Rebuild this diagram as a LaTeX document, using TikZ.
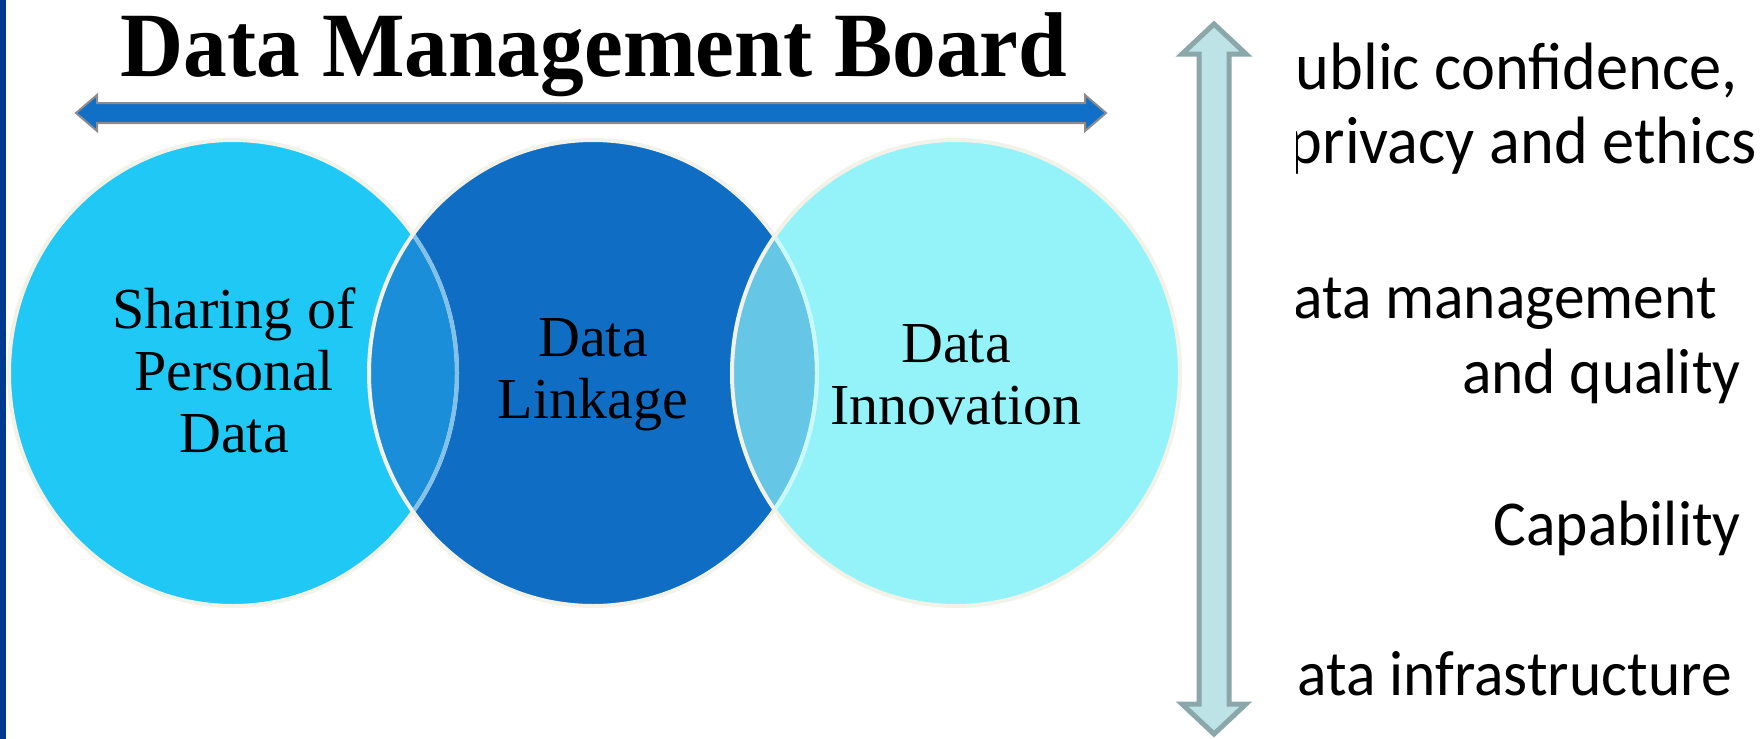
\documentclass[tikz,border=0pt]{standalone}
\usepackage{fontspec}
\setmainfont{Liberation Serif}
\newfontfamily\titlefont{Liberation Serif}[FakeStretch=0.95]
\newfontfamily\calib{Carlito}[FakeStretch=0.96]
\usetikzlibrary{positioning}

\definecolor{barblue}{RGB}{0,58,142}
\definecolor{sharecol}{RGB}{31,200,245}
\definecolor{linkcol}{RGB}{15,110,196}
\definecolor{innocol}{RGB}{148,243,248}
\definecolor{lensA}{RGB}{26,142,216}
\definecolor{lensB}{RGB}{102,198,230}
\definecolor{rimcol}{RGB}{242,242,232}
\definecolor{boardblue}{RGB}{16,112,200}
\definecolor{boardgray}{RGB}{140,140,140}
\definecolor{scalefill}{RGB}{190,227,230}
\definecolor{scalerim}{RGB}{138,167,169}

\tikzset{
    rim/.style={draw=rimcol, line width=2pt},
    vennlabel/.style={align=center, inner sep=0pt, font=\fontsize{29}{31}\selectfont},
    sidelabel/.style={anchor=base east, inner sep=0pt, font=\calib\fontsize{32}{36}\selectfont}
}

\begin{document}
\begin{tikzpicture}[x=0.5pt,y=-0.5pt]
    \useasboundingbox (0,0) rectangle (1762,739);
    \fill[barblue] (0,0) rectangle (6,739);

    % Title and the board arrow
    \node[anchor=base, inner sep=0pt] (title) at (594,76) {\titlefont\bfseries\fontsize{46}{50}\selectfont Data Management Board};
    \draw[fill=boardblue, draw=boardgray, line width=1pt]
        (76,113) -- (97,95) -- (97,103) -- (1085,103) -- (1085,95) -- (1106,113)
        -- (1085,131) -- (1085,123) -- (97,123) -- (97,131) -- cycle;

    % The three circles
    \coordinate (c1) at (233,373);
    \coordinate (c2) at (593,373);
    \coordinate (c3) at (956,373);
    \fill[sharecol] (c1) ellipse [x radius=112pt, y radius=116.5pt];
    \fill[linkcol] (c2) ellipse [x radius=112pt, y radius=116.5pt];
    \fill[innocol] (c3) ellipse [x radius=112pt, y radius=116.5pt];
    \begin{scope}
        \clip (c1) ellipse [x radius=112pt, y radius=116.5pt];
        \fill[lensA] (c2) ellipse [x radius=112pt, y radius=116.5pt];
    \end{scope}
    \begin{scope}
        \clip (c2) ellipse [x radius=112pt, y radius=116.5pt];
        \fill[lensB] (c3) ellipse [x radius=112pt, y radius=116.5pt];
    \end{scope}
    \foreach \c in {c1,c2,c3}
        \draw[rim] (\c) ellipse [x radius=112pt, y radius=116.5pt];
    % faint rims inside the overlaps
    \begin{scope}
        \clip (c2) ellipse [x radius=111pt, y radius=115.5pt];
        \draw[rim, draw=lensA!55!white] (c1) ellipse [x radius=112pt, y radius=116.5pt];
    \end{scope}
    \begin{scope}
        \clip (c3) ellipse [x radius=111pt, y radius=115.5pt];
        \draw[rim, draw=innocol!50!white] (c2) ellipse [x radius=112pt, y radius=116.5pt];
    \end{scope}

    \node[vennlabel] (sharing) at (234,370) {Sharing of\\Personal\\Data};
    \node[vennlabel] (linkage) at (593,375) {Data\\Linkage};
    \node[vennlabel] (innovation) at (956,375) {Data\\Innovation};

    % The scale arrow and its labels
    \draw[fill=scalefill, draw=scalerim, line width=2.5pt]
        (1214,24) -- (1246,54) -- (1229,54) -- (1229,704) -- (1246,704) -- (1214,734)
        -- (1182,704) -- (1199,704) -- (1199,54) -- (1182,54) -- cycle;

    \begin{scope}
        \clip (1296,0) rectangle (1762,739);
        \node[sidelabel, font=\calib\fontsize{33.5}{36}\selectfont] (public) at (1738,89) {Public confidence,};
        \node[sidelabel, font=\calib\fontsize{33.5}{36}\selectfont] (privacy) at (1757,163) {privacy and ethics};
        \node[sidelabel] (manage) at (1717,318) {Data management};
        \node[sidelabel] (quality) at (1741,393) {and quality};
        \node[sidelabel] (capable) at (1741,545) {Capability};
        \node[sidelabel] (infra) at (1732,695) {Data infrastructure};
    \end{scope}
\end{tikzpicture}
\end{document}
